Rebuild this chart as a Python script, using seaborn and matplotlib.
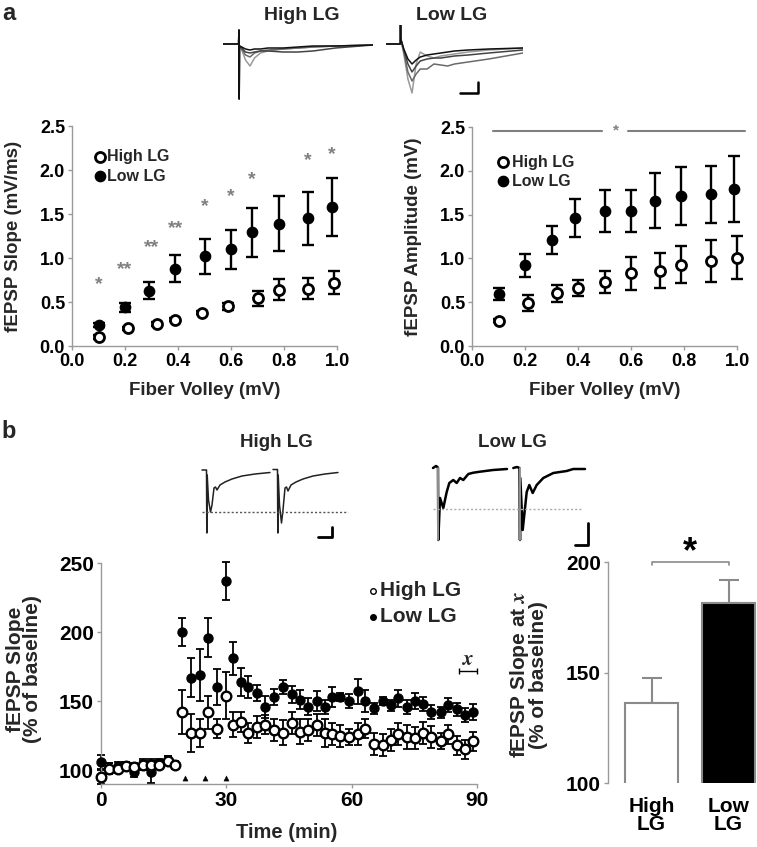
import matplotlib
matplotlib.use("Agg")
import matplotlib.pyplot as plt
import seaborn as sns
import pandas as pd

# ---------------- data ----------------
# Panel a, left: fEPSP slope vs fiber volley
slope_fv_high = [0.10, 0.21, 0.32, 0.39, 0.49, 0.59, 0.70, 0.78, 0.89, 0.99]
slope_high = [0.10, 0.20, 0.25, 0.30, 0.38, 0.45, 0.54, 0.64, 0.65, 0.72]
slope_high_err = [0.02, 0.02, 0.02, 0.02, 0.02, 0.04, 0.09, 0.12, 0.12, 0.13]
slope_fv_low = [0.10, 0.20, 0.29, 0.39, 0.50, 0.60, 0.68, 0.78, 0.89, 0.98]
slope_low = [0.24, 0.44, 0.63, 0.88, 1.02, 1.10, 1.29, 1.39, 1.45, 1.58]
slope_low_err = [0.02, 0.05, 0.10, 0.15, 0.20, 0.22, 0.28, 0.31, 0.30, 0.33]
slope_sig_x = [0.10, 0.20, 0.30, 0.39, 0.50, 0.60, 0.68, 0.89, 0.98]
slope_sig_y = [0.70, 0.87, 1.12, 1.34, 1.58, 1.70, 1.89, 2.11, 2.17]
slope_sig_lbl = ["*", "**", "**", "**", "*", "*", "*", "*", "*"]

# Panel a, right: fEPSP amplitude vs fiber volley
amp_fv_high = [0.10, 0.21, 0.32, 0.40, 0.50, 0.60, 0.71, 0.79, 0.90, 1.00]
amp_high = [0.29, 0.49, 0.60, 0.66, 0.73, 0.83, 0.86, 0.93, 0.97, 1.01]
amp_high_err = [0.02, 0.09, 0.10, 0.09, 0.13, 0.19, 0.20, 0.21, 0.24, 0.25]
amp_fv_low = [0.10, 0.20, 0.30, 0.39, 0.50, 0.60, 0.69, 0.79, 0.90, 0.99]
amp_low = [0.59, 0.92, 1.21, 1.46, 1.54, 1.54, 1.66, 1.71, 1.73, 1.79]
amp_low_err = [0.07, 0.13, 0.16, 0.22, 0.24, 0.24, 0.31, 0.33, 0.33, 0.38]

# Panel b: LTP time course (% of baseline)
ltp_time = [0, 2, 4, 6, 8, 10, 12, 14, 16, 17.7,
            19.5, 21.5, 23.8, 25.7, 27.7, 29.9, 31.7, 33.4, 35.2, 37.4,
            39.2, 41.4, 43.6, 45.6, 47.6, 49.6, 51.6, 53.6, 55.4, 57.3,
            59.3, 61.6, 63.3, 65.3, 67.4, 69.3, 71.1, 73.3, 75.1, 77.1,
            79.1, 81.3, 83.1, 85.1, 87.1, 89.1]
ltp_high = [95, 101, 101, 103, 102, 104, 104, 104, 107, 104,
            142, 127, 127, 142, 130, 154, 133, 135, 127, 131,
            133, 129, 127, 134, 128, 129, 133, 127, 126, 125,
            124, 126, 130, 119, 118, 122, 126, 124, 123, 127,
            124, 121, 126, 118, 115, 121]
ltp_high_err = [5, 4, 3, 3, 3, 4, 4, 3, 3, 3,
                16, 14, 10, 12, 7, 17, 9, 7, 7, 8,
                7, 8, 9, 8, 9, 8, 8, 10, 8, 8,
                6, 8, 7, 8, 8, 8, 8, 9, 8, 8,
                8, 6, 7, 7, 7, 7]
ltp_low = [106, 101, 103, 103, 99, 104, 99, 105, 107, 104,
           200, 167, 169, 196, 160, 237, 181, 164, 160, 156,
           146, 153, 160, 155, 151, 146, 150, 146, 153, 153,
           150, 157, 150, 145, 150, 147, 152, 146, 150, 148,
           142, 142, 147, 144, 140, 142]
ltp_low_err = [5, 4, 3, 3, 4, 3, 8, 3, 3, 3,
               10, 14, 19, 14, 13, 14, 12, 10, 8, 6,
               8, 6, 5, 6, 7, 6, 7, 5, 7, 3,
               5, 9, 8, 4, 3, 4, 6, 5, 6, 5,
               5, 4, 5, 5, 5, 6]
stim_times = [20, 25, 30]

# Panel b, right: slope at x
bar_groups = ["High\nLG", "Low\nLG"]
bar_vals = [136, 181.5]
bar_err = [11.5, 10.5]

# Example traces (arbitrary units)
tr_a_high_t = [0, 10.4, 10.6, 10.8, 11.0, 12.5, 15, 18, 21, 25, 30, 40, 50, 60, 75, 100]
tr_a_high = [
    [0, 0, 14, -55, -2, -6, -16, -22, -14, -9, -7, -5, -4, -3, -2, -1],
    [0, 0, 14, -55, -2, -5, -11, -13, -9, -7, -6, -5, -4, -3, -2, -1],
    [0, 0, 14, -55, -2, -4, -8, -9, -8, -7, -7, -8, -8, -7, -4, -1],
    [0, 0, 14, -55, -2, -3, -5, -6, -5, -5, -4, -4, -3, -2, -2, -1],
]
tr_a_low_t = [0, 10.4, 10.6, 10.8, 13, 16, 19, 22, 25, 30, 35, 40, 45, 50, 60, 75, 100]
tr_a_low = [
    [0, 0, 20, 5, -10, -35, -49, -20, -8, -12, -14, -12, -11, -10, -8, -6, -4],
    [0, 0, 20, 5, -8, -28, -37, -30, -25, -25, -20, -21, -22, -20, -18, -15, -9],
    [0, 0, 20, 5, -6, -20, -28, -22, -17, -15, -14, -14, -13, -12, -11, -9, -6],
    [0, 0, 20, 5, -5, -15, -20, -16, -13, -11, -10, -9, -8, -7, -6, -5, -4],
]
tr_a_colors = ["#9a9a9a", "#6a6a6a", "#444444", "#111111"]
sb_a_t = [54, 67, 67]
sb_a_v = [-49, -49, -38]

tr_b_high_t1 = [2, 6.5, 6.8, 7.2, 8.5, 10.5, 12, 14, 15.5, 17, 20, 25, 32, 42, 55, 70]
tr_b_high_v1 = [0, 0, -63, -5, -30, -42, -35, -18, -17, -20, -15, -12, -9, -6, -4, -2.5]
tr_b_high_t2 = [73, 77.5, 77.8, 78.2, 79.5, 81.5, 83, 85, 86.5, 88, 91, 96, 103, 113, 125, 138]
tr_b_high_v2 = [0.5, 0.5, -63, -5, -35, -53, -40, -18, -17, -21, -15, -12, -9, -6, -4, -2.5]
base_b_high = -42
sb_b_high_t = [118, 132, 132]
sb_b_high_v = [-67, -67, -57]

tr_b_low_t1 = [3, 6, 7.5, 8, 8.3, 10, 13.3, 16.7, 19.3, 23.3, 26.7, 30, 33.3, 38.3, 43.3, 50, 63, 77]
tr_b_low_v1 = [0, 2, 1, 0, -72, -30, -40, -24, -15, -12, -15, -10, -12, -6, -4.7, -3.7, -2, -1]
tr_b_low_t2 = [83.3, 87, 89.5, 90, 90.3, 92.7, 96.7, 99.3, 102.7, 106.7, 113.3, 123.3, 136.7, 143.3, 155]
tr_b_low_v2 = [0, 1, 0, -72, -10, -62, -24, -17, -25, -17, -10, -5, -3, -1, -1]
base_b_low = -41
sb_b_low_t = [145, 158, 158]
sb_b_low_v = [-77, -77, -55]

# ---------------- style ----------------
sns.set_theme(style="white")
plt.rcParams["font.family"] = ["Liberation Sans", "DejaVu Sans"]
plt.rcParams["font.weight"] = "bold"
plt.rcParams["axes.labelweight"] = "bold"
plt.rcParams["mathtext.fontset"] = "stix"
plt.rcParams["axes.edgecolor"] = "#9a9a9a"
plt.rcParams["axes.linewidth"] = 1.0
plt.rcParams["xtick.labelcolor"] = "black"
plt.rcParams["ytick.labelcolor"] = "black"

W, H = 757, 847
fig = plt.figure(figsize=(W / 100, H / 100), dpi=100)


def add_ax(x0, y0, x1, y1, frame=True):
    ax = fig.add_axes([x0 / W, 1 - y1 / H, (x1 - x0) / W, (y1 - y0) / H])
    if not frame:
        ax.axis("off")
    return ax


def style_ax(ax, fs):
    sns.despine(ax=ax)
    ax.tick_params(axis="both", which="both", direction="out", length=3, width=1,
                   color="#9a9a9a", labelsize=fs, pad=2, left=True, bottom=True)


def series(ax, x, y, e, filled, s, lw_e, cap, mlw):
    ax.errorbar(x, y, yerr=e, fmt="none", ecolor="black", elinewidth=lw_e,
                capsize=cap, capthick=lw_e, zorder=2, clip_on=False)
    df = pd.DataFrame({"x": x, "y": y})
    sns.scatterplot(data=df, x="x", y="y", ax=ax, s=s, marker="o",
                    color="black" if filled else "white", edgecolor="black",
                    linewidth=mlw, zorder=3, clip_on=False, legend=False)


def trace(ax, t, v, color, lw):
    sns.lineplot(x=t, y=v, ax=ax, color=color, lw=lw, sort=False, estimator=None,
                 errorbar=None)


def fig_text(x, y, s, **kw):
    fig.text(x / W, 1 - y / H, s, **kw)


GREY = "#808080"

# ---------------- panel a, left ----------------
ax1 = add_ax(72, 126, 337, 346)
series(ax1, slope_fv_low, slope_low, slope_low_err, True, 55, 1.7, 4.5, 1)
series(ax1, slope_fv_high, slope_high, slope_high_err, False, 52, 1.7, 4.5, 2.0)
for xs, ys, lb in zip(slope_sig_x, slope_sig_y, slope_sig_lbl):
    ax1.text(xs, ys, lb, ha="center", va="center", fontsize=14, color=GREY)
leg_df = pd.DataFrame({"x": [0.106, 0.106], "y": [2.15, 1.93]})
sns.scatterplot(data=leg_df.iloc[[0]], x="x", y="y", ax=ax1, s=52, color="white",
                edgecolor="black", linewidth=2.0, legend=False)
sns.scatterplot(data=leg_df.iloc[[1]], x="x", y="y", ax=ax1, s=55, color="black",
                edgecolor="black", linewidth=1, legend=False)
ax1.text(0.132, 2.15, "High LG", va="center", fontsize=11.5)
ax1.text(0.132, 1.93, "Low LG", va="center", fontsize=11.5)
ax1.set_xlim(0, 1.0)
ax1.set_ylim(0, 2.5)
ax1.set_xticks([0.0, 0.2, 0.4, 0.6, 0.8, 1.0])
ax1.set_xticklabels([f"{v:.1f}" for v in [0.0, 0.2, 0.4, 0.6, 0.8, 1.0]])
ax1.set_yticks([0.0, 0.5, 1.0, 1.5, 2.0, 2.5])
ax1.set_yticklabels([f"{v:.1f}" for v in [0.0, 0.5, 1.0, 1.5, 2.0, 2.5]])
style_ax(ax1, 13)
ax1.set_xlabel("Fiber Volley (mV)", fontsize=13.5)
ax1.set_ylabel("fEPSP Slope (mV/ms)", fontsize=13.5)
ax1.xaxis.set_label_coords(0.5, -0.164)
ax1.yaxis.set_label_coords(-0.19, 0.5)

# ---------------- panel a, right ----------------
ax2 = add_ax(472, 127, 737, 346)
series(ax2, amp_fv_low, amp_low, amp_low_err, True, 55, 1.7, 4.5, 1)
series(ax2, amp_fv_high, amp_high, amp_high_err, False, 52, 1.7, 4.5, 2.0)
ax2.plot([0.08, 0.49], [2.46, 2.46], color=GREY, lw=1.5, clip_on=False)
ax2.plot([0.59, 1.03], [2.46, 2.46], color=GREY, lw=1.5, clip_on=False)
ax2.text(0.545, 2.46, "*", ha="center", va="center", fontsize=11, color=GREY)
leg_df2 = pd.DataFrame({"x": [0.117, 0.117], "y": [2.10, 1.88]})
sns.scatterplot(data=leg_df2.iloc[[0]], x="x", y="y", ax=ax2, s=52, color="white",
                edgecolor="black", linewidth=2.0, legend=False)
sns.scatterplot(data=leg_df2.iloc[[1]], x="x", y="y", ax=ax2, s=55, color="black",
                edgecolor="black", linewidth=1, legend=False)
ax2.text(0.15, 2.10, "High LG", va="center", fontsize=11.5)
ax2.text(0.15, 1.88, "Low LG", va="center", fontsize=11.5)
ax2.set_xlim(0, 1.0)
ax2.set_ylim(0, 2.5)
ax2.set_xticks([0.0, 0.2, 0.4, 0.6, 0.8, 1.0])
ax2.set_xticklabels([f"{v:.1f}" for v in [0.0, 0.2, 0.4, 0.6, 0.8, 1.0]])
ax2.set_yticks([0.0, 0.5, 1.0, 1.5, 2.0, 2.5])
ax2.set_yticklabels([f"{v:.1f}" for v in [0.0, 0.5, 1.0, 1.5, 2.0, 2.5]])
style_ax(ax2, 13)
ax2.set_xlabel("Fiber Volley (mV)", fontsize=13.5)
ax2.set_ylabel("fEPSP Amplitude (mV)", fontsize=13.5)
ax2.xaxis.set_label_coords(0.5, -0.164)
ax2.yaxis.set_label_coords(-0.189, 0.5)

# ---------------- panel a traces ----------------
axt1 = add_ax(223, 25, 373, 105, frame=False)
for v, c in zip(tr_a_high, tr_a_colors):
    trace(axt1, tr_a_high_t, v, c, 1.1)
axt1.set_xlim(0, 100)
axt1.set_ylim(-61, 19)

axt2 = add_ax(386, 25, 523, 105, frame=False)
for v, c in zip(tr_a_low, tr_a_colors):
    trace(axt2, tr_a_low_t, v, c, 1.1)
trace(axt2, sb_a_t, sb_a_v, "black", 1.8)
axt2.set_xlim(0, 100)
axt2.set_ylim(-61, 19)

fig_text(302, 15, "High LG", ha="center", va="center", fontsize=14)
fig_text(452, 15, "Low LG", ha="center", va="center", fontsize=14)

# ---------------- panel b, LTP ----------------
ax3 = add_ax(101, 563, 477, 784)
series(ax3, ltp_time, ltp_low, ltp_low_err, True, 42, 1.3, 3, 1)
series(ax3, ltp_time, ltp_high, ltp_high_err, False, 48, 1.3, 3, 1.7)
stim_df = pd.DataFrame({"t": stim_times, "y": [94] * len(stim_times)})
sns.scatterplot(data=stim_df, x="t", y="y", ax=ax3, marker="^", s=14, color="black",
                edgecolor="black", legend=False)
sns.scatterplot(x=[65], y=[230], ax=ax3, s=16, color="white", edgecolor="black",
                linewidth=1, legend=False)
sns.scatterplot(x=[65], y=[211], ax=ax3, s=16, color="black", edgecolor="black",
                linewidth=1, legend=False)
ax3.text(66.8, 230, "High LG", va="center", fontsize=15)
ax3.text(66.8, 211, "Low LG", va="center", fontsize=15)
ax3.errorbar([87.9], [172], xerr=[2.1], fmt="none", ecolor="black", elinewidth=1,
             capsize=2, capthick=1, clip_on=False)
ax3.text(87.9, 173.5, "$x$", ha="center", va="bottom", fontsize=15)
ax3.set_xlim(0, 90)
ax3.set_ylim(90, 250)
ax3.set_xticks([0, 30, 60, 90])
ax3.set_yticks([100, 150, 200, 250])
style_ax(ax3, 15)
ax3.set_xlabel("Time (min)", fontsize=14.5)
ax3.set_ylabel("fEPSP Slope\n(% of baseline)", fontsize=15, linespacing=0.85)
ax3.xaxis.set_label_coords(0.494, -0.176)
ax3.yaxis.set_label_coords(-0.157, 0.52)

# ---------------- panel b traces ----------------
axt3 = add_ax(200, 460, 350, 545, frame=False)
trace(axt3, tr_b_high_t1, tr_b_high_v1, "#222222", 1.1)
trace(axt3, tr_b_high_t2, tr_b_high_v2, "#222222", 1.1)
axt3.plot([2, 148], [base_b_high, base_b_high], color="#555555", lw=1.0, ls=(0, (1.5, 1.5)))
trace(axt3, sb_b_high_t, sb_b_high_v, "black", 2.0)
axt3.set_xlim(0, 150)
axt3.set_ylim(-75, 10)

axt4 = add_ax(430, 458, 595, 548, frame=False)
trace(axt4, tr_b_low_t1, tr_b_low_v1, "black", 1.8)
trace(axt4, tr_b_low_t2, tr_b_low_v2, "black", 1.8)
axt4.plot([tr_b_low_t1[4], tr_b_low_t1[4]], [0, tr_b_low_v1[4]], color="#aaaaaa", lw=1.2)
axt4.plot([tr_b_low_t2[3], tr_b_low_t2[3]], [0, tr_b_low_v2[3]], color="#aaaaaa", lw=1.2)
axt4.plot([3, 153], [base_b_low, base_b_low], color="#aaaaaa", lw=1.0, ls=(0, (1.5, 1.5)))
trace(axt4, sb_b_low_t, sb_b_low_v, "black", 2.0)
axt4.set_xlim(0, 165)
axt4.set_ylim(-80, 10)

fig_text(276, 442, "High LG", ha="center", va="center", fontsize=13.5)
fig_text(512, 442, "Low LG", ha="center", va="center", fontsize=13.5)

# ---------------- panel b, bar ----------------
ax4 = add_ax(608, 562, 757, 783)
bar_df = pd.DataFrame({"group": bar_groups, "value": bar_vals})
sns.barplot(data=bar_df, x="group", y="value", hue="group", palette=["white", "black"],
            edgecolor="#8a8a8a", linewidth=1.5, width=0.69, ax=ax4, legend=False)
ax4.errorbar([0, 1], bar_vals, yerr=[[0, 0], bar_err], fmt="none", ecolor="#8a8a8a",
             elinewidth=1.5, capsize=7, capthick=1.5, zorder=0)
ax4.plot([0, 0, 1, 1], [198.5, 200, 200, 198.5], color="#8a8a8a", lw=1.2, clip_on=False)
ax4.text(0.5, 204, "*", ha="center", va="center", fontsize=26, color="black")
ax4.set_ylim(100, 200)
ax4.set_xlim(-0.565, 1.37)
ax4.set_yticks([100, 150, 200])
style_ax(ax4, 15)
ax4.spines["bottom"].set_visible(False)
ax4.tick_params(axis="x", length=0, pad=10)
for lbl in ax4.get_xticklabels():
    lbl.set_linespacing(0.95)
ax4.set_xlabel("")
ax4.set_ylabel("fEPSP Slope at $x$\n(% of baseline)", fontsize=15, linespacing=0.9)
ax4.yaxis.set_label_coords(-0.40, 0.49)

# panel letters
fig_text(2, 2, "a", ha="left", va="top", fontsize=17)
fig_text(1, 420, "b", ha="left", va="top", fontsize=17)

fig.savefig("out.png", dpi=100)
